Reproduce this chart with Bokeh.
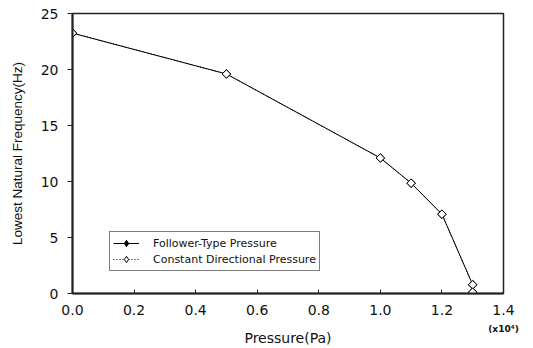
import numpy as np
from bokeh.plotting import figure
from bokeh.models import (Legend, LegendItem, FixedTicker, Range1d, LinearAxis,
                          ColumnDataSource, CustomJSTickFormatter, CDSView, IndexFilter)
from bokeh.embed import file_html
from bokeh.resources import INLINE

# Data (pressure in units of 1e4 Pa, frequency in Hz)
pressure = [0.0, 0.5, 1.0, 1.1, 1.2, 1.3, 1.3]
follower_freq = [23.25, 19.6, 12.1, 9.85, 7.08, 0.78, 0.12]
constant_freq = [23.25, 19.6, 12.1, 9.85, 7.08, 0.78, 0.12]

x_ticks = [0.0, 0.2, 0.4, 0.6, 0.8, 1.0, 1.2, 1.4]
y_ticks = [0, 5, 10, 15, 20, 25]
x_scale_tick = 1.4
x_scale_text = "(x10⁴)"

FONT = "DejaVu Sans"
VFONT = "Liberation Sans"
INK = "#111111"

p = figure(width=533, height=348, output_backend="svg", toolbar_location=None,
           x_range=Range1d(0, 1.4), y_range=Range1d(0, 25),
           min_border_left=72, min_border_right=30, min_border_top=13,
           min_border_bottom=10)
p.grid.visible = False
p.background_fill_color = "white"
p.border_fill_color = "white"
p.outline_line_color = "#222222"
p.outline_line_width = 1.5

src_f = ColumnDataSource(dict(x=pressure, y=follower_freq))
src_c = ColumnDataSource(dict(x=pressure, y=constant_freq))

# legend key markers (first point only, hidden beneath the real markers)
kc = p.scatter("x", "y", source=src_c, view=CDSView(filter=IndexFilter(indices=[0])),
               marker="diamond", size=7,
               fill_color="white", line_color="black", line_width=1)
kf = p.scatter("x", "y", source=src_f, view=CDSView(filter=IndexFilter(indices=[0])),
               marker="diamond", size=7,
               fill_color="black", line_color="black", line_width=1)

lf = p.line("x", "y", source=src_f, line_color="black", line_width=1)
p.scatter("x", "y", source=src_f, marker="square", angle=np.pi / 4, size=6,
          fill_color="black", line_color="black", line_width=1)
lc = p.line("x", "y", source=src_c, line_color="black", line_width=1, line_dash="1 2")
p.scatter("x", "y", source=src_c, marker="square", angle=np.pi / 4, size=6,
          fill_color="white", line_color="black", line_width=1)

# Primary x axis: tick labels
xa = p.xaxis[0]
xa.ticker = FixedTicker(ticks=x_ticks)
xa.formatter = CustomJSTickFormatter(code="return tick.toFixed(1);")
xa.major_tick_in = 4
xa.major_tick_out = 0
xa.minor_tick_line_color = None
xa.axis_line_width = 2
xa.axis_line_color = "#222222"
xa.major_tick_line_color = "#222222"
xa.major_label_text_font = FONT
xa.major_label_text_font_size = "14px"
xa.major_label_text_color = INK
xa.major_label_standoff = 11

# Secondary x axis: exponent note + axis title
xb = LinearAxis(ticker=FixedTicker(ticks=[x_scale_tick]),
                major_label_overrides={x_scale_tick: x_scale_text})
xb.axis_line_color = None
xb.major_tick_line_color = None
xb.minor_tick_line_color = None
xb.major_tick_in = 0
xb.major_tick_out = 0
xb.major_label_standoff = 6
xb.major_label_text_font = FONT
xb.major_label_text_font_size = "9px"
xb.major_label_text_font_style = "bold"
xb.major_label_text_color = INK
xb.axis_label = "Pressure(Pa)"
xb.axis_label_text_font = FONT
xb.axis_label_text_font_size = "14px"
xb.axis_label_text_font_style = "normal"
xb.axis_label_text_color = INK
xb.axis_label_standoff = -7
p.add_layout(xb, "below")

ya = p.yaxis[0]
ya.ticker = FixedTicker(ticks=y_ticks)
ya.axis_label = "Lowest Natural Frequency(Hz)"
ya.major_tick_in = 0
ya.major_tick_out = 5
ya.minor_tick_line_color = None
ya.axis_line_width = 2
ya.axis_line_color = "#222222"
ya.major_tick_line_color = "#222222"
ya.major_label_text_font = FONT
ya.major_label_text_font_size = "14px"
ya.major_label_text_color = INK
ya.major_label_standoff = 9
ya.axis_label_text_font = VFONT
ya.axis_label_text_font_size = "13.5px"
ya.axis_label_text_font_style = "normal"
ya.axis_label_text_color = INK
ya.axis_label_standoff = 13

# Legend
legend = Legend(items=[
    LegendItem(label="Follower-Type Pressure", renderers=[lf, kf]),
    LegendItem(label="Constant Directional Pressure", renderers=[lc, kc]),
], location=(37, 22))
legend.label_text_font = FONT
legend.label_text_font_size = "11px"
legend.label_text_color = INK
legend.border_line_color = "black"
legend.border_line_width = 1
legend.padding = 3
legend.spacing = 0
legend.margin = 0
legend.glyph_width = 26
legend.glyph_height = 16
legend.label_height = 16
legend.label_standoff = 14
legend.background_fill_color = "white"
legend.background_fill_alpha = 1
p.add_layout(legend, "center")

open("out.html", "w").write(file_html(p, INLINE))
